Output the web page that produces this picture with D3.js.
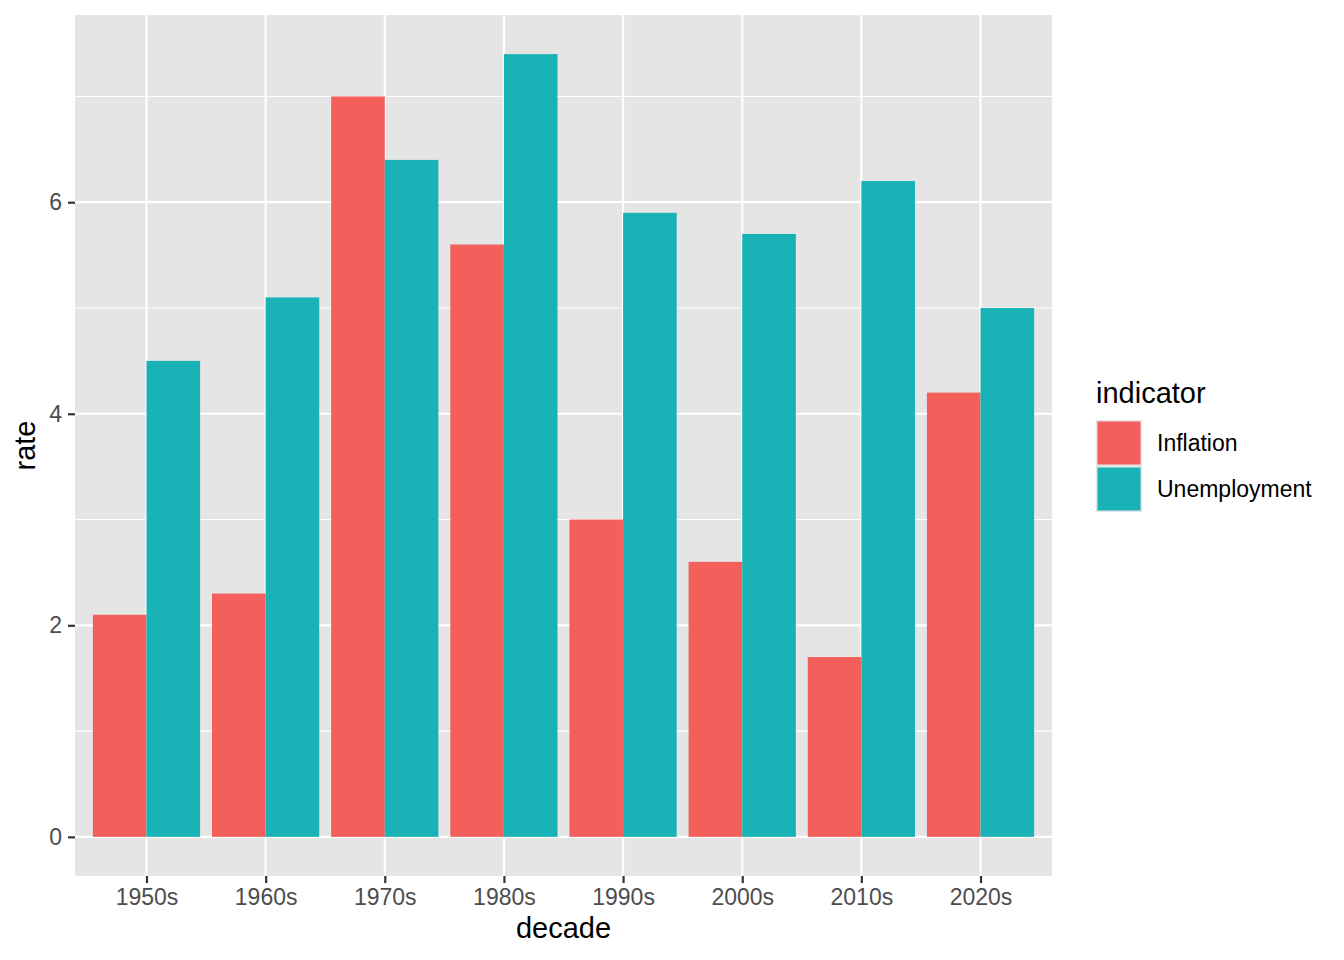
<!DOCTYPE html>
<html>
<head>
<meta charset="utf-8">
<script src="https://cdn.jsdelivr.net/npm/d3@7"></script>
<style>
  body { margin: 0; background: #fff; }
  text { font-family: Helvetica, Arial, "Liberation Sans", sans-serif; }
</style>
</head>
<body>
<div id="chart"></div>
<script>
const decades = ["1950s", "1960s", "1970s", "1980s", "1990s", "2000s", "2010s", "2020s"];
const indicators = ["Inflation", "Unemployment"];
const inflation = [2.1, 2.3, 7.0, 5.6, 3.0, 2.6, 1.7, 4.2];
const unemployment = [4.5, 5.1, 6.4, 7.4, 5.9, 5.7, 6.2, 5.0];
const yTicks = [0, 2, 4, 6];
const yMinor = [1, 3, 5, 7];
const fills = ["#f35f5a", "#19b3b7"];

const w = 1344, h = 960;
const margin = { top: 15, right: 292, bottom: 84, left: 75 };
const width = w - margin.left - margin.right;
const height = h - margin.top - margin.bottom;

const rows = [];
decades.forEach((d, i) => {
  rows.push({ decade: d, indicator: "Inflation", rate: inflation[i] });
  rows.push({ decade: d, indicator: "Unemployment", rate: unemployment[i] });
});

const svg = d3.select("#chart").append("svg")
  .attr("width", w).attr("height", h);

const g = svg.append("g")
  .attr("transform", `translate(${margin.left},${margin.top})`);

// ggplot style expansion: 0.6 units each side on discrete axis
const step = width / (decades.length - 1 + 1.2);
const xSc = d3.scalePoint()
  .domain(decades)
  .range([0.6 * step, width - 0.6 * step]);

const yMax = d3.max(rows, d => d.rate);
const ySc = d3.scaleLinear()
  .domain([-0.05 * yMax, yMax * 1.05])
  .range([height, 0]);

const barW = step * 0.9 / 2;

g.append("rect")
  .attr("width", width).attr("height", height)
  .attr("fill", "#e5e5e5");

g.selectAll(".minor")
  .data(yMinor)
  .join("line")
    .attr("class", "minor")
    .attr("x1", 0).attr("x2", width)
    .attr("y1", d => ySc(d)).attr("y2", d => ySc(d))
    .attr("stroke", "#fff").attr("stroke-width", 1.1);

g.selectAll(".majory")
  .data(yTicks)
  .join("line")
    .attr("class", "majory")
    .attr("x1", 0).attr("x2", width)
    .attr("y1", d => ySc(d)).attr("y2", d => ySc(d))
    .attr("stroke", "#fff").attr("stroke-width", 2.2);

g.selectAll(".majorx")
  .data(decades)
  .join("line")
    .attr("class", "majorx")
    .attr("y1", 0).attr("y2", height)
    .attr("x1", d => xSc(d)).attr("x2", d => xSc(d))
    .attr("stroke", "#fff").attr("stroke-width", 2.2);

g.selectAll(".bar")
  .data(rows)
  .join("rect")
    .attr("class", "bar")
    .attr("x", d => xSc(d.decade) + (d.indicator === "Inflation" ? -barW : 0))
    .attr("width", barW)
    .attr("y", d => ySc(d.rate))
    .attr("height", d => ySc(0) - ySc(d.rate))
    .attr("fill", d => fills[indicators.indexOf(d.indicator)]);

// axes
const yAxis = g.append("g")
  .call(d3.axisLeft(ySc).tickValues(yTicks).tickSize(7).tickPadding(6));
const xAxis = g.append("g")
  .attr("transform", `translate(0,${height})`)
  .call(d3.axisBottom(xSc).tickSize(7).tickPadding(6));

[xAxis, yAxis].forEach(a => {
  a.select(".domain").remove();
  a.selectAll(".tick line").attr("stroke", "#333").attr("stroke-width", 2.2);
  a.selectAll(".tick text")
    .attr("fill", "#4d4d4d")
    .style("font-size", "23px");
});

g.append("text")
  .attr("x", width / 2).attr("y", height + 62)
  .attr("text-anchor", "middle")
  .style("font-size", "29px")
  .text("decade");

g.append("text")
  .attr("transform", `translate(${-40},${height / 2}) rotate(-90)`)
  .attr("text-anchor", "middle")
  .style("font-size", "29px")
  .text("rate");

// legend
const legend = svg.append("g")
  .attr("transform", "translate(1096, 0)");

legend.append("text")
  .attr("x", 0).attr("y", 403)
  .style("font-size", "29px")
  .text("indicator");

legend.selectAll(".key")
  .data(indicators)
  .join("rect")
    .attr("class", "key")
    .attr("x", 0)
    .attr("y", (d, i) => 420 + i * 46)
    .attr("width", 46).attr("height", 46)
    .attr("fill", "#e5e5e5");

legend.selectAll(".keyfill")
  .data(indicators)
  .join("rect")
    .attr("class", "keyfill")
    .attr("x", 1.5)
    .attr("y", (d, i) => 421.5 + i * 46)
    .attr("width", 43).attr("height", 43)
    .attr("fill", (d, i) => fills[i]);

legend.selectAll(".keytext")
  .data(indicators)
  .join("text")
    .attr("class", "keytext")
    .attr("x", 61)
    .attr("y", (d, i) => 443 + i * 46)
    .attr("dy", "0.35em")
    .style("font-size", "23px")
    .text(d => d);
</script>
</body>
</html>
